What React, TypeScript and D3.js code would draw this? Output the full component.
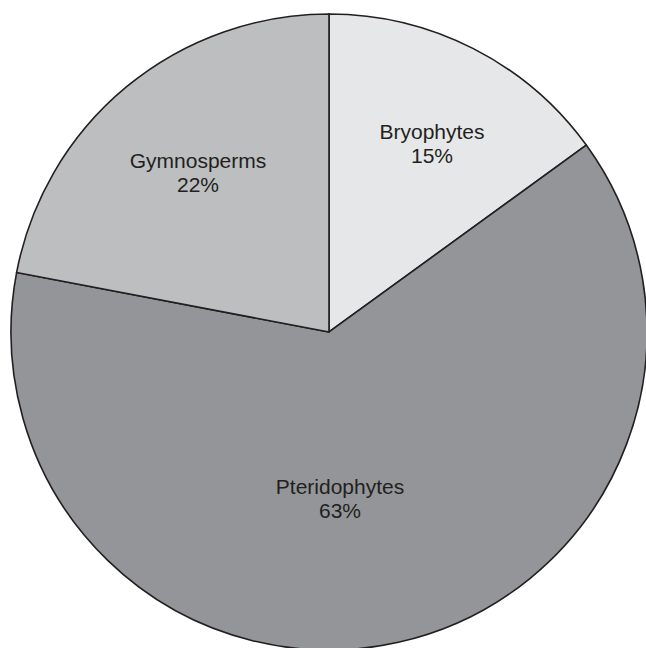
import React from 'react';
import * as d3 from 'd3';

const categories = ['Bryophytes', 'Pteridophytes', 'Gymnosperms'];
const shares = [15, 63, 22];
const sliceColors = ['#e6e7e8', '#939598', '#bcbec0'];
// label anchor offsets from the pie centre (first line baseline)
const labelOffsets: [number, number][] = [[103, -193], [11, 162], [-131, -164]];

const width = 646;
const height = 648;
const cx = 329;
const cy = 332;
const radius = 318;

const App = () => {
    const pie = d3.pie<number>().sort(null).value(d => d)(shares);
    const arc = d3.arc<d3.PieArcDatum<number>>().innerRadius(0).outerRadius(radius);

    return (
        <svg width={width} height={height} style={{ position: 'absolute', left: 0, top: 0, background: '#fff' }}>
            <g transform={`translate(${cx},${cy})`}>
                {pie.map((d, i) => (
                    <path key={categories[i]} d={arc(d) || ''} fill={sliceColors[i]}
                        stroke="#231f20" strokeWidth={1.6} strokeLinejoin="miter" />
                ))}
                {pie.map((d, i) => (
                    <text key={'t' + i} x={labelOffsets[i][0]} y={labelOffsets[i][1]}
                        textAnchor="middle" fontFamily="'Liberation Sans', Arial, sans-serif"
                        fontSize={21} fill="#231f20">
                        <tspan x={labelOffsets[i][0]}>{categories[i]}</tspan>
                        <tspan x={labelOffsets[i][0]} dy={24}>{`${d.data}%`}</tspan>
                    </text>
                ))}
            </g>
        </svg>
    );
};

export default App;
